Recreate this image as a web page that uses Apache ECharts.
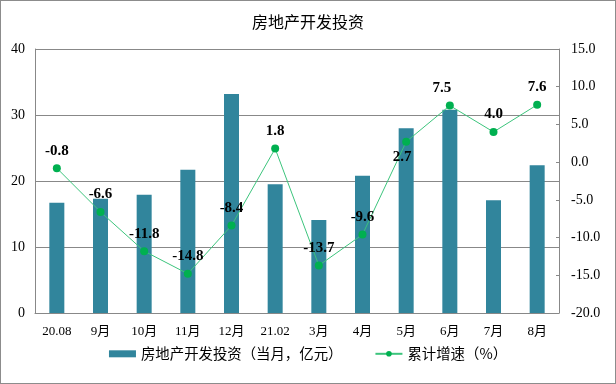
<!DOCTYPE html>
<html><head><meta charset="utf-8">
<script src="https://cdn.jsdelivr.net/npm/echarts@6/dist/echarts.min.js"></script>
<style>html,body{margin:0;padding:0;background:#fff}#c{width:616px;height:384px;box-sizing:border-box;border:1px solid #8c8c8c}</style>
</head><body><div id="c"></div>
<script>
const categories = ['20.08','9月','10月','11月','12月','21.02','3月','4月','5月','6月','7月','8月'];
const investment = [16.7, 17.3, 17.9, 21.7, 33.2, 19.5, 14.1, 20.8, 28.0, 30.8, 17.1, 22.4];
const growth = [-0.8, -6.6, -11.8, -14.8, -8.4, 1.8, -13.7, -9.6, 2.7, 7.5, 4.0, 7.6];
const seriesNames = ['房地产开发投资（当月，亿元）', '累计增速（%）'];
const titleText = '房地产开发投资';

const serif = "'Liberation Serif','Noto Sans CJK SC'";
const chart = echarts.init(document.getElementById('c'), null, {renderer:'canvas'});
chart.setOption({
  animation:false,
  title:{text:titleText,left:'center',top:8,textStyle:{fontSize:16,fontWeight:'normal',color:'#000',fontFamily:"'Noto Sans CJK SC'"}},
  grid:{left:34,right:56,top:48,bottom:70,containLabel:false},
  legend:{bottom:17,left:'center',itemGap:32,itemWidth:27,itemHeight:7,
    textStyle:{fontSize:14.4,color:'#000',fontFamily:"'Noto Sans CJK SC'"},
    data:[{name:seriesNames[0],icon:'rect'},{name:seriesNames[1]}]},
  xAxis:{type:'category',data:categories,
    axisLine:{lineStyle:{color:'#888'}},axisTick:{show:false},
    axisLabel:{color:'#000',fontSize:13,fontFamily:serif,margin:12}},
  yAxis:[
    {type:'value',min:0,max:40,interval:10,
     axisLine:{show:true,lineStyle:{color:'#888'}},axisTick:{show:false},
     splitLine:{lineStyle:{color:'#888'}},
     axisLabel:{color:'#000',fontSize:14,fontFamily:serif,margin:10}},
    {type:'value',min:-20,max:15,interval:5,
     axisLine:{show:true,lineStyle:{color:'#888'}},
     axisTick:{show:true,inside:true,length:3,lineStyle:{color:'#888'}},
     splitLine:{show:false},
     axisLabel:{color:'#000',fontSize:14,fontFamily:serif,margin:12,formatter:v=>v.toFixed(1)}}
  ],
  series:[
    {name:seriesNames[0],type:'bar',data:investment,barWidth:15,itemStyle:{color:'#31859C'}},
    {name:seriesNames[1],type:'line',yAxisIndex:1,data:growth.map((v,i)=>{
        const o={value:v};
        if(i===8){o.label={position:'bottom',offset:[-4,-2]};}
        if(i===9){o.label={offset:[-8,0]};}
        return o;}),
     symbol:'circle',symbolSize:8,
     lineStyle:{color:'#3CC47C',width:1},itemStyle:{color:'#00B050'},
     label:{show:true,position:'top',distance:6,color:'#000',fontSize:15,fontWeight:'bold',fontFamily:serif,
       formatter:p=>p.value.toFixed(1)}}
  ]
});
</script></body></html>
